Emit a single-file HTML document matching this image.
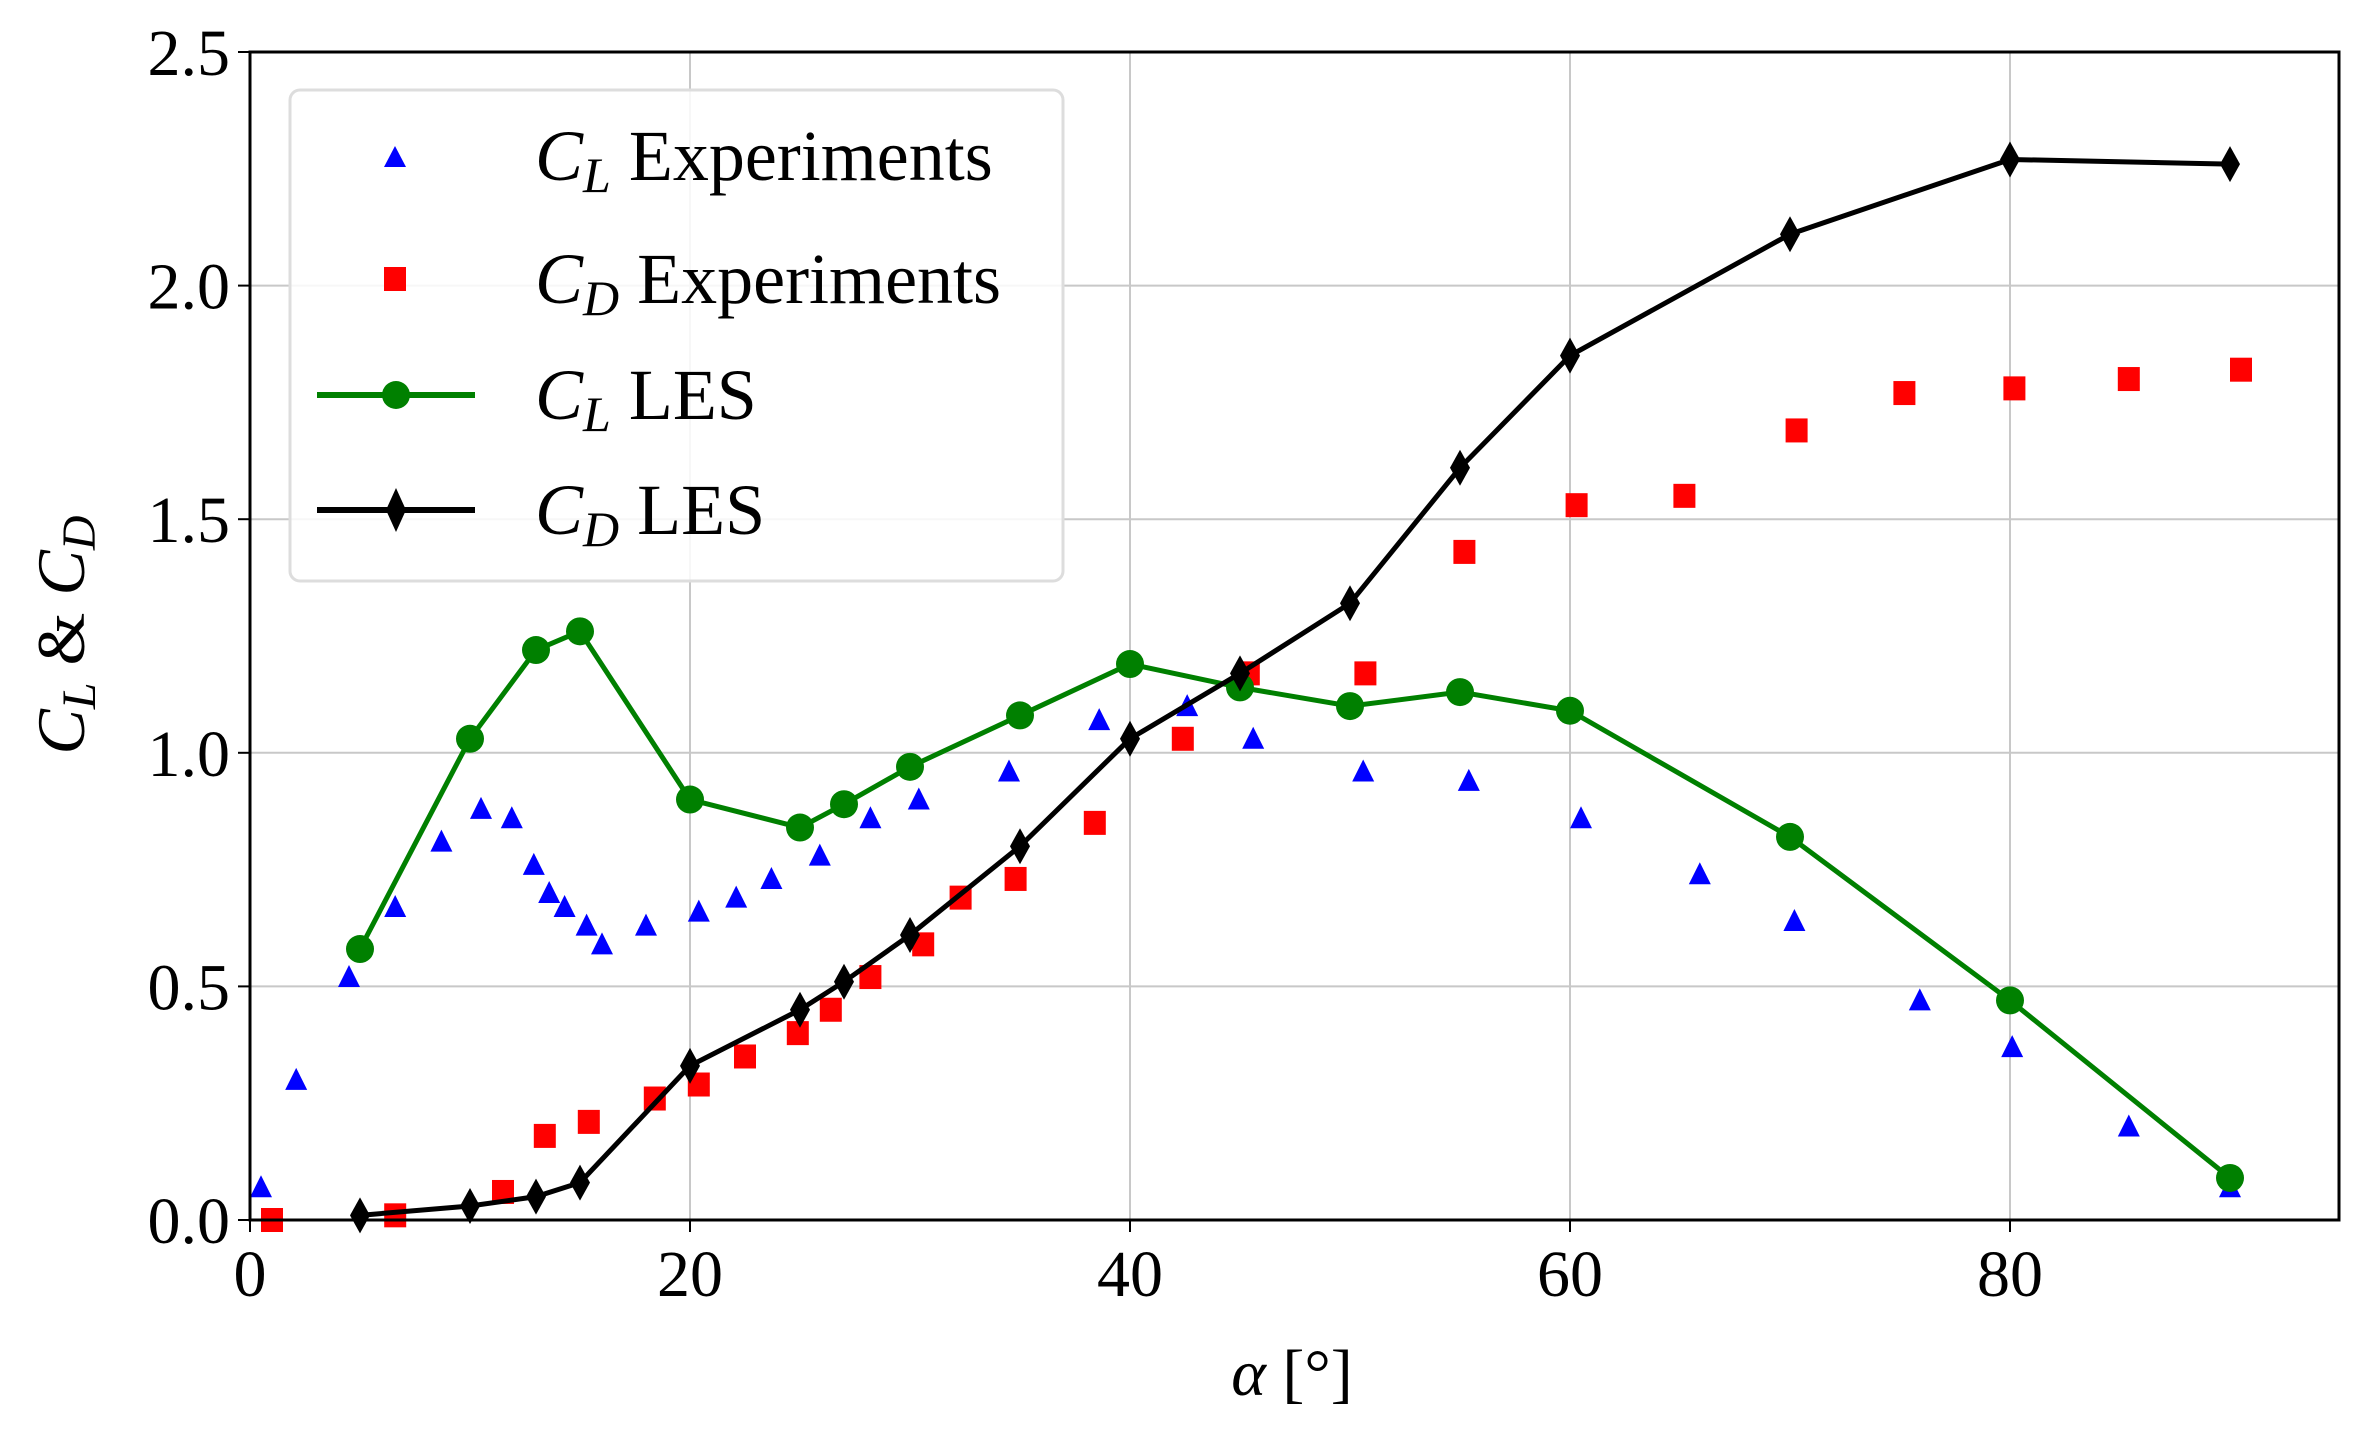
<!DOCTYPE html>
<html><head><meta charset="utf-8"><style>
html,body{margin:0;padding:0;background:#fff;}
svg{display:block;font-family:"Liberation Serif",serif;}
</style></head><body>
<svg id="chart" width="2365" height="1430" viewBox="0 0 2365 1430" xmlns="http://www.w3.org/2000/svg">
<g id="grid"></g>
<g id="series"></g>
<g id="axes"></g>
<text x="1292" y="1395" font-size="66" text-anchor="middle"><tspan font-style="italic">α</tspan> [°]</text>
<text transform="translate(84,635) rotate(-90)" font-size="68" text-anchor="middle"><tspan font-style="italic">C</tspan><tspan font-style="italic" font-size="48" dy="11">L</tspan><tspan dy="-11"> &amp; </tspan><tspan font-style="italic">C</tspan><tspan font-style="italic" font-size="48" dy="11">D</tspan></text>
<g id="legend">
<rect x="290" y="90" width="773" height="491" rx="10" fill="#fff" fill-opacity="0.85" stroke="#ddd" stroke-width="3"/>
<g><polygon points="384,167 406,167 395,146" fill="#0000ff"/><text x="535" y="180" font-size="72"><tspan font-style="italic">C</tspan><tspan font-style="italic" font-size="50" dy="12">L</tspan><tspan dy="-12"> Experiments</tspan></text></g>
<g><rect x="384" y="267" width="22" height="24" fill="#ff0000"/><text x="535" y="303" font-size="72"><tspan font-style="italic">C</tspan><tspan font-style="italic" font-size="50" dy="12">D</tspan><tspan dy="-12"> Experiments</tspan></text></g>
<g><line x1="317" y1="395" x2="475" y2="395" stroke="#008000" stroke-width="6"/><circle cx="396" cy="395" r="14" fill="#008000"/><text x="535" y="419" font-size="72"><tspan font-style="italic">C</tspan><tspan font-style="italic" font-size="50" dy="12">L</tspan><tspan dy="-12"> LES</tspan></text></g>
<g><line x1="317" y1="510" x2="475" y2="510" stroke="#000" stroke-width="6"/><polygon points="396,488 406,510 396,532 386,510" fill="#000"/><text x="535" y="534" font-size="72"><tspan font-style="italic">C</tspan><tspan font-style="italic" font-size="50" dy="12">D</tspan><tspan dy="-12"> LES</tspan></text></g>
</g>
</svg>
<script>
const xTicks=[0,20,40,60,80];
const yTicks=[0.0,0.5,1.0,1.5,2.0,2.5];
const yTickLabels=["0.0","0.5","1.0","1.5","2.0","2.5"];
const clExpX=[0.5,2.1,4.5,6.6,8.7,10.5,11.9,12.9,13.6,14.3,15.3,16,18,20.4,22.1,23.7,25.9,28.2,30.4,34.5,38.6,42.6,45.6,50.6,55.4,60.5,65.9,70.2,75.9,80.1,85.4,90];
const clExpY=[0.07,0.30,0.52,0.67,0.81,0.88,0.86,0.76,0.70,0.67,0.63,0.59,0.63,0.66,0.69,0.73,0.78,0.86,0.90,0.96,1.07,1.10,1.03,0.96,0.94,0.86,0.74,0.64,0.47,0.37,0.20,0.07];
const cdExpX=[1,6.6,11.5,13.4,15.4,18.4,20.4,22.5,24.9,26.4,28.2,30.6,32.3,34.8,38.4,42.4,45.4,50.7,55.2,60.3,65.2,70.3,75.2,80.2,85.4,90.5];
const cdExpY=[0.0,0.01,0.06,0.18,0.21,0.26,0.29,0.35,0.40,0.45,0.52,0.59,0.69,0.73,0.85,1.03,1.17,1.17,1.43,1.53,1.55,1.69,1.77,1.78,1.80,1.82];
const lesX=[5,10,13,15,20,25,27,30,35,40,45,50,55,60,70,80,90];
const clLes=[0.58,1.03,1.22,1.26,0.90,0.84,0.89,0.97,1.08,1.19,1.14,1.10,1.13,1.09,0.82,0.47,0.09];
const cdLes=[0.01,0.03,0.05,0.08,0.33,0.45,0.51,0.61,0.80,1.03,1.17,1.32,1.61,1.85,2.11,2.27,2.26];

const L=250,R=2339,T=52,B=1220;
const sx=v=>L+v*22;
const sy=v=>B-(B-T)*v/2.5;
const NS="http://www.w3.org/2000/svg";
function mk(tag,attrs,parent){const e=document.createElementNS(NS,tag);for(const k in attrs)e.setAttribute(k,attrs[k]);parent.appendChild(e);return e;}
const grid=document.getElementById('grid'),ser=document.getElementById('series'),ax=document.getElementById('axes');

xTicks.forEach(t=>{
  const g=mk('line',{x1:sx(t),x2:sx(t),y1:T,y2:B,stroke:'#c8c8c8','stroke-width':2},grid);
  
  
  const tk=mk('line',{x1:sx(t),x2:sx(t),y1:B,y2:B+12,stroke:'#000','stroke-width':2},ax);
  
  
  const lb=mk('text',{x:sx(t),y:B+76,'font-size':66,'text-anchor':'middle'},ax);
  lb.textContent=String(t);
  
  
});
yTicks.forEach((t,i)=>{
  const g=mk('line',{x1:L,x2:R,y1:sy(t),y2:sy(t),stroke:'#c8c8c8','stroke-width':2},grid);
  
  
  const tk=mk('line',{x1:L-12,x2:L,y1:sy(t),y2:sy(t),stroke:'#000','stroke-width':2},ax);
  
  
  const lb=mk('text',{x:L-20,y:sy(t)+23,'font-size':66,'text-anchor':'end'},ax);
  lb.textContent=yTickLabels[i];
  
  
});
const frame=mk('rect',{x:L,y:T,width:R-L,height:B-T,fill:'none',stroke:'#000','stroke-width':3},ax);



clExpX.forEach((x,i)=>{
  const cx=sx(x),cy=sy(clExpY[i]);
  const p=mk('polygon',{points:`${cx-11},${cy+10} ${cx+11},${cy+10} ${cx},${cy-12}`,fill:'#0000ff'},ser);
  
  
});
cdExpX.forEach((x,i)=>{
  const cx=sx(x),cy=sy(cdExpY[i]);
  const p=mk('rect',{x:cx-11,y:cy-12,width:22,height:24,fill:'#ff0000'},ser);
  
  
});
const clPath=mk('polyline',{points:lesX.map((x,i)=>sx(x)+','+sy(clLes[i])).join(' '),fill:'none',stroke:'#008000','stroke-width':5},ser);


lesX.forEach((x,i)=>{
  const c=mk('circle',{cx:sx(x),cy:sy(clLes[i]),r:14,fill:'#008000'},ser);
  
  
});
const cdPath=mk('polyline',{points:lesX.map((x,i)=>sx(x)+','+sy(cdLes[i])).join(' '),fill:'none',stroke:'#000','stroke-width':5},ser);


lesX.forEach((x,i)=>{
  const cx=sx(x),cy=sy(cdLes[i]);
  const d=mk('polygon',{points:`${cx},${cy-18} ${cx+10},${cy} ${cx},${cy+18} ${cx-10},${cy}`,fill:'#000'},ser);
  
  
});
</script>
</body></html>
